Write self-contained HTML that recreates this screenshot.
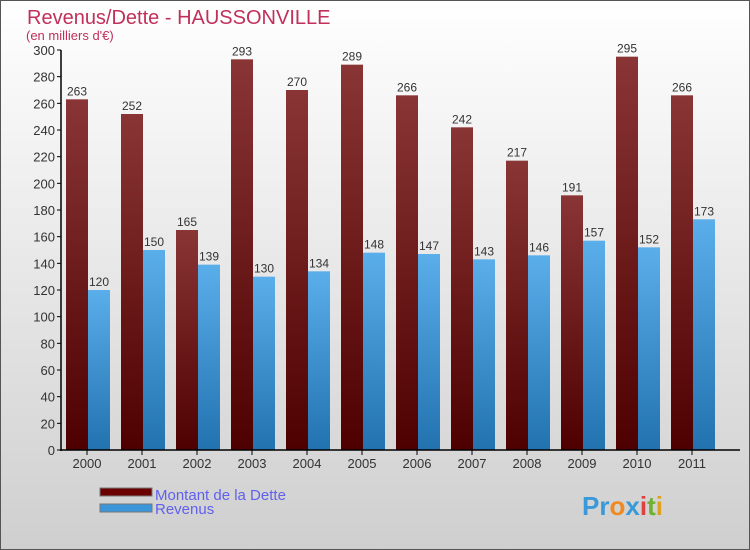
<!DOCTYPE html>
<html><head><meta charset="utf-8"><style>
body{margin:0}
#c{width:750px;height:550px;position:relative;overflow:hidden;font-family:"Liberation Sans",sans-serif}
</style></head><body>
<div id="c">
<svg width="750" height="550" id="svg">
<defs>
<linearGradient id="bg" x1="0" y1="0" x2="0" y2="1"><stop offset="0" stop-color="#ffffff"/><stop offset="1" stop-color="#cfcfcf"/></linearGradient>
<linearGradient id="gd" x1="0" y1="0" x2="0" y2="1"><stop offset="0" stop-color="#8a3535"/><stop offset="1" stop-color="#4e0000"/></linearGradient>
<linearGradient id="gr" x1="0" y1="0" x2="0" y2="1"><stop offset="0" stop-color="#5aaeea"/><stop offset="1" stop-color="#2272b0"/></linearGradient>
</defs>
<rect x="0.5" y="0.5" width="749" height="549" fill="url(#bg)" stroke="#555"/>
<text x="27" y="24" font-size="20" fill="#c0305a">Revenus/Dette - HAUSSONVILLE</text>
<text x="26" y="40" font-size="13" fill="#c0305a">(en milliers d'€)</text>
<g id="plot"></g>
<rect x="100" y="488" width="52" height="8" fill="#6a0000" stroke="#777"/>
<text x="155" y="500" font-size="15" fill="#6060ee">Montant de la Dette</text>
<rect x="100" y="504" width="52" height="8" fill="#3a95db" stroke="#777"/>
<text x="155" y="514" font-size="15" fill="#6060ee">Revenus</text>
<text x="582" y="515" font-size="26" font-weight="bold"><tspan fill="#3a9ad9">Pr</tspan><tspan fill="#f08a20">o</tspan><tspan fill="#3a9ad9">x</tspan><tspan fill="#e04040">i</tspan><tspan fill="#70b030">t</tspan><tspan fill="#e0a020">i</tspan></text>
</svg></div>
<script>
const categories=["2000","2001","2002","2003","2004","2005","2006","2007","2008","2009","2010","2011"];
const dette=[263,252,165,293,270,289,266,242,217,191,295,266];
const revenus=[120,150,139,130,134,148,147,143,146,157,152,173];
const yTicks=[0,20,40,60,80,100,120,140,160,180,200,220,240,260,280,300];
const NS="http://www.w3.org/2000/svg";
const g=document.getElementById('plot');
const y=v=>450-v*400/300;
const xc=i=>87+55*i;
function el(t,a){const e=document.createElementNS(NS,t);for(const k in a)e.setAttribute(k,a[k]);g.appendChild(e);return e;}
yTicks.forEach(t=>{
 const l=el('line',{x1:57,x2:61,y1:y(t),y2:y(t),stroke:'#000'});
 
 
 const tx=el('text',{x:55,y:y(t)+5,'font-size':13,'text-anchor':'end',fill:'#333'});tx.textContent=t;
 
 
});
categories.forEach((c,i)=>{
 const b1=el('rect',{x:xc(i)-21,y:y(dette[i]),width:22,height:450-y(dette[i]),fill:'url(#gd)'});
 
 
 const b2=el('rect',{x:xc(i)+1,y:y(revenus[i]),width:22,height:450-y(revenus[i]),fill:'url(#gr)'});
 
 
 const v1=el('text',{x:xc(i)-10,y:y(dette[i])-4,'font-size':12,'text-anchor':'middle',fill:'#333'});v1.textContent=dette[i];
 
 
 const v2=el('text',{x:xc(i)+12,y:y(revenus[i])-4,'font-size':12,'text-anchor':'middle',fill:'#333'});v2.textContent=revenus[i];
 
 
 const tk=el('line',{x1:xc(i),x2:xc(i),y1:450,y2:455,stroke:'#000'});
 
 
 const lb=el('text',{x:xc(i),y:468,'font-size':13,'text-anchor':'middle',fill:'#333'});lb.textContent=c;
 
 
});
const ya=el('line',{x1:61,x2:61,y1:50,y2:451,stroke:'#000','stroke-width':1.5});


const xa=el('line',{x1:60,x2:740,y1:450,y2:450,stroke:'#000','stroke-width':1.5});


</script>
</body></html>
